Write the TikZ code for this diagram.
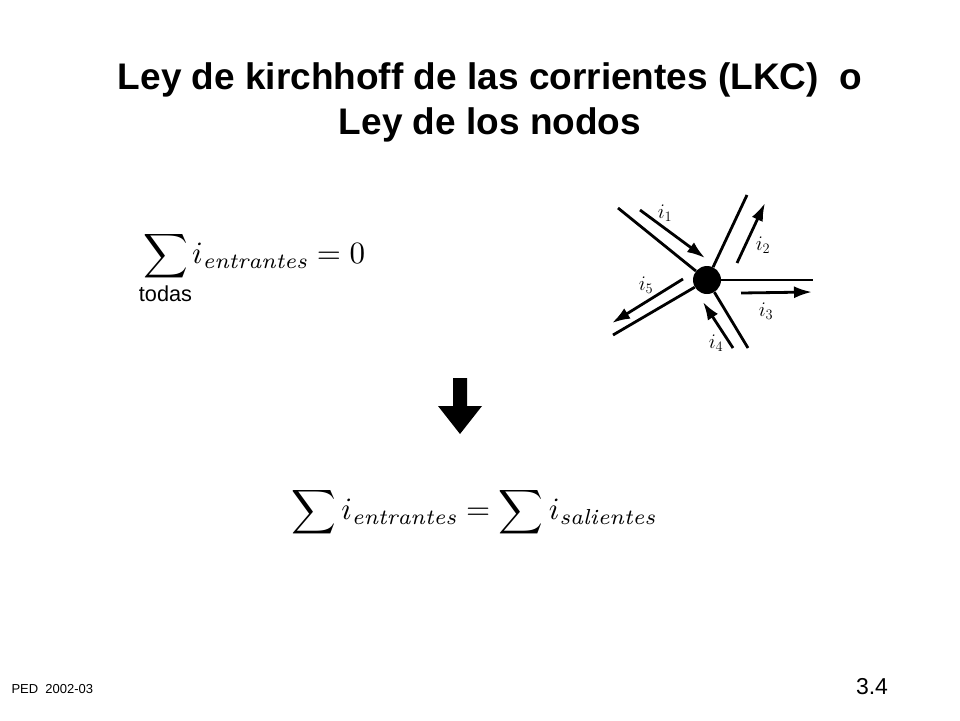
\documentclass[tikz,border=0pt]{standalone}
\usepackage{fontspec}
\usepackage{amsmath}
\setsansfont{Liberation Sans}
\usetikzlibrary{arrows.meta}
\tikzset{
  wire/.style={line width=2.8pt},
  curr/.style={line width=2.8pt,-{Latex[length=18pt,width=12pt]}},
  lbl/.style={font=\fontsize{22}{22}\selectfont},
  formula/.style={scale=3.1}
}
\begin{document}
\begin{tikzpicture}[x=1pt,y=-1pt]
\useasboundingbox (0,0) rectangle (960,720);
\node[font=\sffamily\bfseries\fontsize{37}{45}\selectfont,align=center] (title) at (490,102)
  {Ley de kirchhoff de las corrientes (LKC)\ \ o\\Ley de los nodos};
% node
\node[circle,fill,minimum size=28pt,inner sep=0] (n) at (707,280) {};
\coordinate (w1) at (618,208);
\coordinate (w2) at (747,195);
\coordinate (w3) at (813,280);
\coordinate (w4) at (748,348);
\coordinate (w5) at (613,335);
\foreach \w in {w1,w2,w3,w4,w5}
\draw[wire] (n) -- (\w);
\draw[curr] (640,210) -- (705,258);
\draw[curr] (737,263) -- (765,203);
\draw[curr] (741,293) -- (812,292);
\draw[curr] (733,348) -- (703,302);
\draw[curr] (683,279) -- (612,323);
\node[lbl] (l1) at (665,213) {$i_1$};
\node[lbl] (l2) at (763,245) {$i_2$};
\node[lbl] (l3) at (766,311) {$i_3$};
\node[lbl] (l4) at (716,343) {$i_4$};
\node[lbl] (l5) at (646,285) {$i_5$};
% formulas
\node[formula,anchor=west] (f1) at (128,268)
  {$\displaystyle\sum_{\text{\sffamily\scriptsize todas}}\! i_{\mathit{entrantes}}=0$};
\node[formula] (f2) at (474,512)
  {$\displaystyle\sum i_{\mathit{entrantes}}=\sum i_{\mathit{salientes}}$};
% down arrow
\fill (453,378) -- (467,378) -- (467,406) -- (482,406) -- (460,434) -- (438,406) -- (453,406) -- cycle;
\node[font=\sffamily\fontsize{13}{13}\selectfont,anchor=west] (ped) at (8,689) {PED\ \ 2002-03};
\node[font=\sffamily\fontsize{23}{23}\selectfont] (pg) at (872,687) {3.4};
\end{tikzpicture}
\end{document}
